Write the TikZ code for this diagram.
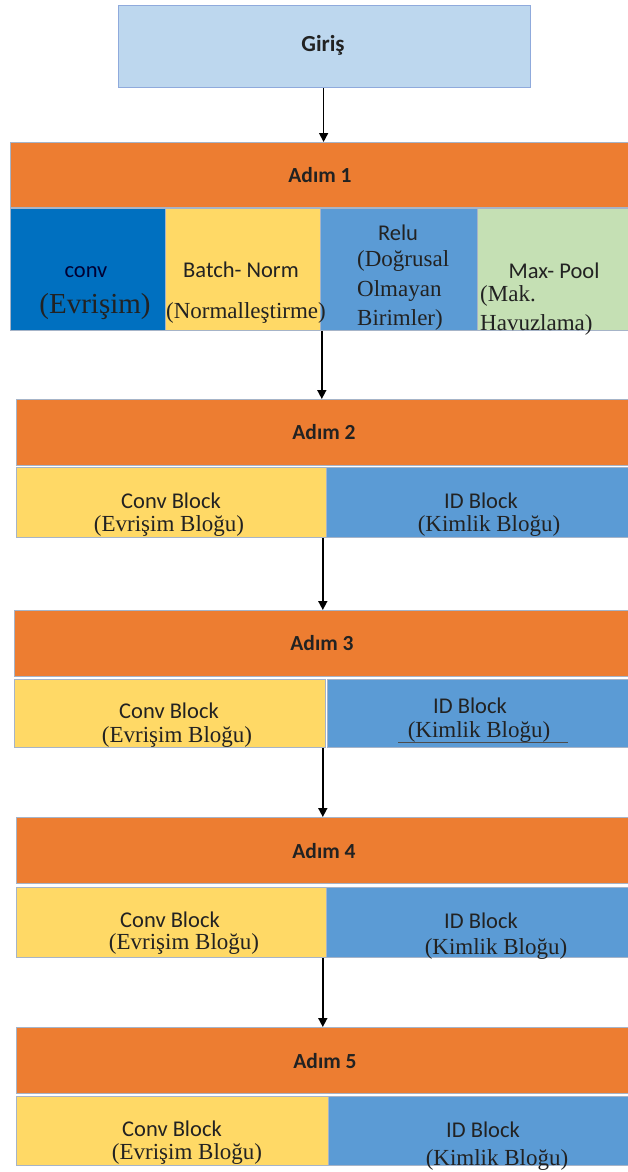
\documentclass[tikz,border=0pt]{standalone}
\usepackage{fontspec}
\setmainfont{Liberation Serif}
\setsansfont{Carlito}
\usetikzlibrary{arrows.meta}
\definecolor{girisfill}{HTML}{BDD7EE}
\definecolor{girisline}{HTML}{8FAADC}
\definecolor{adimfill}{HTML}{ED7D31}
\definecolor{convblue}{HTML}{0070C0}
\definecolor{normyellow}{HTML}{FFD966}
\definecolor{relublue}{HTML}{5B9BD5}
\definecolor{poolgreen}{HTML}{C5E0B4}
\definecolor{boxline}{HTML}{A6B4C8}
\definecolor{inktext}{HTML}{222222}
\begin{document}
\begin{tikzpicture}[x=1pt, y=-1pt,
    box/.style={rectangle, draw=boxline, line width=0.8pt, inner sep=0pt, anchor=north west},
    adimbox/.style={box, fill=adimfill},
    sanslbl/.style={font=\sffamily\fontsize{22.5}{27}\selectfont, text=inktext, inner sep=0pt, anchor=base},
    boldlbl/.style={sanslbl, font=\sffamily\bfseries\fontsize{21.5}{26}\selectfont},
    seriflbl/.style={font=\fontsize{23}{28}\selectfont, text=inktext, inner sep=0pt, anchor=base},
    flow/.style={-{Triangle[width=9pt,length=9pt]}, line width=1.6pt, black}]
\useasboundingbox (0,0) rectangle (627,1172);

% Giris
\node[box, draw=girisline, line width=1.2pt, fill=girisfill, minimum width=412pt, minimum height=82pt] (giris) at (118,5) {};
\node[boldlbl, font=\sffamily\bfseries\fontsize{23}{28}\selectfont] (girist) at (323,52) {Giriş};

% Adim 1
\node[adimbox, minimum width=620pt, minimum height=65pt] (adim1) at (10,142) {};
\node[boldlbl] (adim1t) at (320,182) {Adım 1};
\node[box, fill=convblue, minimum width=155pt, minimum height=122pt] (conv) at (10,208) {};
\node[box, fill=normyellow, minimum width=155pt, minimum height=122pt] (batch) at (165,208) {};
\node[box, fill=relublue, minimum width=157pt, minimum height=122pt] (relu) at (320,208) {};
\node[box, fill=poolgreen, minimum width=153pt, minimum height=122pt] (pool) at (477,208) {};
\node[sanslbl, text=black!80!blue] (convt) at (86,277) {conv};
\node[seriflbl, font=\fontsize{29}{32}\selectfont] (convs) at (95,313) {(Evrişim)};
\node[sanslbl] (batcht) at (241,277) {Batch- Norm};
\node[seriflbl] (batchs) at (246,318) {(Normalleştirme)};
\node[sanslbl] (relut) at (398,240) {Relu};
\node[seriflbl, anchor=base west] (relus1) at (357,266) {(Doğrusal};
\node[seriflbl, anchor=base west] (relus2) at (357,296) {Olmayan};
\node[seriflbl, anchor=base west] (relus3) at (357,325) {Birimler)};
\node[sanslbl] (poolt) at (554,278) {Max- Pool};
\node[seriflbl, anchor=base west] (pools1) at (480,301) {(Mak.};
\node[seriflbl, anchor=base west] (pools2) at (480,330) {Havuzlama)};

% Adim 2
\node[adimbox, minimum width=615pt, minimum height=66pt] (adim2) at (16,399) {};
\node[boldlbl] (adim2t) at (324,439) {Adım 2};
\node[box, fill=normyellow, minimum width=310pt, minimum height=70pt] (conv2) at (16,467) {};
\node[box, fill=relublue, minimum width=305pt, minimum height=70pt] (id2) at (326,467) {};
\node[sanslbl] (conv2t) at (171,508) {Conv Block};
\node[seriflbl] (conv2s) at (169,531) {(Evrişim Bloğu)};
\node[sanslbl] (id2t) at (481,508) {ID Block};
\node[seriflbl] (id2s) at (489,531) {(Kimlik Bloğu)};

% Adim 3
\node[adimbox, minimum width=617pt, minimum height=66pt] (adim3) at (14,610) {};
\node[boldlbl] (adim3t) at (322,650) {Adım 3};
\node[box, fill=normyellow, minimum width=311pt, minimum height=68pt] (conv3) at (14,679) {};
\node[box, fill=relublue, minimum width=304pt, minimum height=68pt] (id3) at (327,679) {};
\node[sanslbl] (conv3t) at (169,718) {Conv Block};
\node[seriflbl] (conv3s) at (177,742) {(Evrişim Bloğu)};
\node[sanslbl] (id3t) at (470,713) {ID Block};
\node[seriflbl] (id3s) at (479,737) {(Kimlik Bloğu)};
\draw[black!70, line width=0.6pt] (398,742) -- (568,742);

% Adim 4
\node[adimbox, minimum width=615pt, minimum height=66pt] (adim4) at (16,817) {};
\node[boldlbl] (adim4t) at (324,858) {Adım 4};
\node[box, fill=normyellow, minimum width=310pt, minimum height=70pt] (conv4) at (16,887) {};
\node[box, fill=relublue, minimum width=305pt, minimum height=70pt] (id4) at (326,887) {};
\node[sanslbl] (conv4t) at (170,927) {Conv Block};
\node[seriflbl] (conv4s) at (184,949) {(Evrişim Bloğu)};
\node[sanslbl] (id4t) at (481,928) {ID Block};
\node[seriflbl] (id4s) at (496,954) {(Kimlik Bloğu)};

% Adim 5
\node[adimbox, minimum width=615pt, minimum height=66pt] (adim5) at (16,1027) {};
\node[boldlbl] (adim5t) at (325,1068) {Adım 5};
\node[box, fill=normyellow, minimum width=312pt, minimum height=69pt] (conv5) at (16,1096) {};
\node[box, fill=relublue, minimum width=303pt, minimum height=69pt] (id5) at (328,1096) {};
\node[sanslbl] (conv5t) at (172,1136) {Conv Block};
\node[seriflbl] (conv5s) at (187,1159) {(Evrişim Bloğu)};
\node[sanslbl] (id5t) at (483,1137) {ID Block};
\node[seriflbl] (id5s) at (497,1165) {(Kimlik Bloğu)};

% Connections
\draw[flow] ([xshift=-1pt]giris.south) -- ([xshift=-1pt]giris.south |- adim1.north);
\draw[flow] ([xshift=1pt]batch.south east) -- ([xshift=1pt]batch.south east |- adim2.north);
\draw[flow] ([xshift=-4pt]conv2.south east) -- ([xshift=-4pt]conv2.south east |- adim3.north);
\draw[flow] ([xshift=-3pt]conv3.south east) -- ([xshift=-3pt]conv3.south east |- adim4.north);
\draw[flow] ([xshift=-4pt]conv4.south east) -- ([xshift=-4pt]conv4.south east |- adim5.north);
\end{tikzpicture}
\end{document}
